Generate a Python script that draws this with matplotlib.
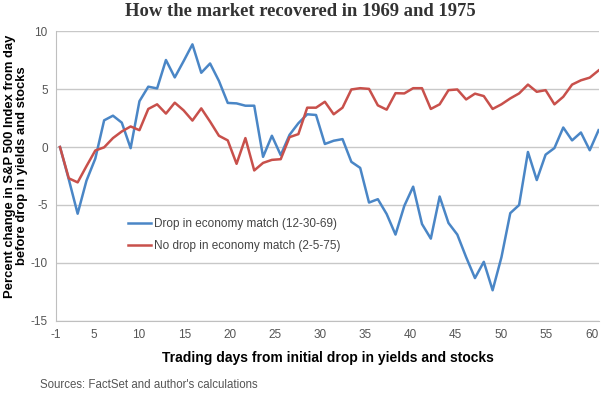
import numpy as np
import matplotlib.pyplot as plt

# percent change in S&P 500 from the day before the drop, one value per trading day
drop_1969 = [0, -2.8, -5.75, -2.9, -1.0, 2.3, 2.7, 2.1, -0.1, 3.95,
             5.2, 5.05, 7.5, 6.0, 7.4, 8.85, 6.4, 7.2, 5.7, 3.8,
             3.76, 3.56, 3.56, -0.85, 0.97, -0.7, 1.05, 2.05, 2.82, 2.76,
             0.26, 0.54, 0.68, -1.28, -1.8, -4.79, -4.5, -5.78, -7.55, -5.07,
             -3.42, -6.64, -7.9, -4.27, -6.55, -7.55, -9.5, -11.3, -9.9, -12.35,
             -9.5, -5.7, -5.0, -0.43, -2.85, -0.66, -0.09, 1.68, 0.57, 1.25,
             -0.28, 1.45]
nodrop_1975 = [0, -2.7, -3.05, -1.65, -0.3, -0.03, 0.77, 1.34, 1.77, 1.45,
               3.28, 3.68, 2.88, 3.82, 3.16, 2.28, 3.33, 2.19, 0.97, 0.57,
               -1.45, 0.77, -2.02, -1.37, -1.11, -1.05, 0.85, 1.11, 3.39, 3.39,
               3.9, 2.82, 3.39, 4.96, 5.07, 5.01, 3.59, 3.22, 4.64, 4.62,
               5.07, 5.07, 3.28, 3.68, 4.9, 4.96, 4.1, 4.6, 4.39, 3.28,
               3.68, 4.19, 4.62, 5.38, 4.76, 4.9, 3.68, 4.33, 5.38, 5.75,
               5.98, 6.6]
series_names = ['Drop in economy match (12-30-69)', 'No drop in economy match (2-5-75)']
x_tick_labels = ['-1', '5', '10', '15', '20', '25', '30', '35', '40', '45', '50', '55', '60']
y_ticks = [-15, -10, -5, 0, 5, 10]

days = np.arange(len(drop_1969))

fig = plt.figure(figsize=(6.01, 3.94), dpi=100)
ax = fig.add_axes([0.0932, 0.1853, 0.9035, 0.736])

ax.plot(days, drop_1969, color='#4a86c6', lw=1.8, label=series_names[0])
ax.plot(days, nodrop_1975, color='#c8504b', lw=1.8, label=series_names[1])

ax.set_ylim(-15, 10)
ax.set_xlim(-0.45, 61.05)
ax.set_yticks(y_ticks)
ax.set_yticklabels([str(v) for v in y_ticks])
# labels in the original sit slightly off the day grid
tick_pos = [-0.45] + [1.025 * int(t) - 1.3 for t in x_tick_labels[1:]]
ax.set_xticks(tick_pos)
ax.set_xticklabels(x_tick_labels)

ax.grid(axis='y', color='#c8c8c8', lw=1)
ax.set_axisbelow(True)
for s in ['top', 'right']:
    ax.spines[s].set_visible(False)
ax.spines['left'].set_color('#bfbfbf')
ax.spines['bottom'].set_color('#bfbfbf')
ax.tick_params(length=0, labelsize=8.5, labelcolor='#555555', pad=6)
for lab in ax.get_xticklabels() + ax.get_yticklabels():
    lab.set_family('Liberation Sans')

ax.set_xlabel('Trading days from initial drop in yields and stocks', fontsize=10,
              fontweight='bold', family='Liberation Sans', labelpad=7)
fig.text(16 / 601, 1 - 166 / 394,
         'Percent change in S&P 500 Index from day\nbefore drop in yields and stocks',
         rotation=90, ha='center', va='center', fontsize=9.4, fontweight='bold',
         family='Liberation Sans', linespacing=1.1)

leg = ax.legend(loc='upper left', bbox_to_anchor=(0.133, 0.356), frameon=False,
                borderpad=0, borderaxespad=0, handlelength=1.9, handletextpad=0.3,
                labelspacing=0.85, prop={'family': 'Liberation Sans', 'size': 8.5})
for t in leg.get_texts():
    t.set_color('#444444')

fig.text(0.5, 1 - 12 / 394, 'How the market recovered in 1969 and 1975', ha='center', va='center',
         fontsize=13.4, fontweight='bold', family='Liberation Serif', color='#333333')
fig.text(40 / 601, 1 - 385 / 394, "Sources: FactSet and author's calculations", ha='left', va='center',
         fontsize=8.3, family='Liberation Sans', color='#555555')

fig.savefig('out.png', dpi=100)
